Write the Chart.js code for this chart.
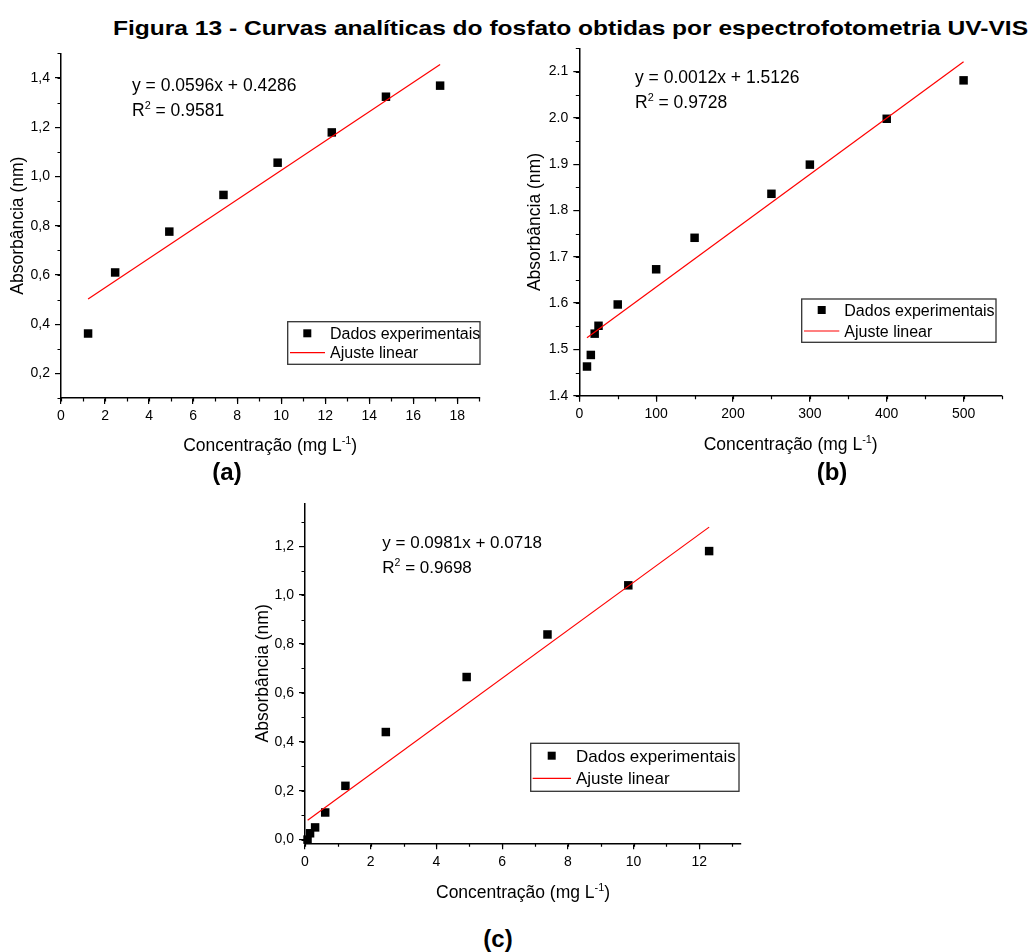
<!DOCTYPE html>
<html>
<head>
<meta charset="utf-8">
<script src="https://cdn.jsdelivr.net/npm/chart.js"></script>
<style>
  body { margin: 0; background: #fff; width: 1031px; height: 952px; position: relative; overflow: hidden; }
  .box { position: absolute; }
  .lbl { position: absolute; width: 80px; text-align: center; font: bold 24px 'Liberation Sans', Arial, sans-serif; line-height: 24px; color: #000; }
  #title { position: absolute; left: 113px; top: 17px; white-space: nowrap; transform-origin: left top;
           font: bold 21px 'Liberation Sans', Arial, sans-serif; line-height: 21px; color: #000; }
</style>
</head>
<body>
<div id="title">Figura 13 - Curvas analíticas do fosfato obtidas por espectrofotometria UV-VIS</div>

<div class="box" style="left:0px;top:40px;width:490px;height:430px"><canvas id="chartA"></canvas></div>
<div class="box" style="left:510px;top:35px;width:521px;height:435px"><canvas id="chartB"></canvas></div>
<div class="box" style="left:240px;top:490px;width:540px;height:422px"><canvas id="chartC"></canvas></div>

<div class="lbl" style="left:187px;top:460px">(a)</div>
<div class="lbl" style="left:792px;top:460px">(b)</div>
<div class="lbl" style="left:458px;top:927px">(c)</div>

<script>
// (a)
const concA = [1.23, 2.46, 4.92, 7.38, 9.84, 12.3, 14.76, 17.22];
const absA  = [0.362, 0.61, 0.776, 0.925, 1.056, 1.179, 1.324, 1.369];
const fitXA = [1.23, 17.22];
const fitYA = [0.502, 1.455];
const xTicksA = [0, 2, 4, 6, 8, 10, 12, 14, 16, 18];
const yTicksA = [0.2, 0.4, 0.6, 0.8, 1.0, 1.2, 1.4];

// (b)
const concB = [10, 15, 20, 25, 50, 100, 150, 250, 300, 400, 500];
const absB  = [1.463, 1.488, 1.534, 1.551, 1.597, 1.673, 1.741, 1.836, 1.899, 1.998, 2.081];
const fitXB = [10, 500];
const fitYB = [1.525, 2.121];
const xTicksB = [0, 100, 200, 300, 400, 500];
const yTicksB = [1.4, 1.5, 1.6, 1.7, 1.8, 1.9, 2.0, 2.1];

// (c)
const concC = [0.077, 0.154, 0.3075, 0.615, 1.23, 2.46, 4.92, 7.38, 9.84, 12.3];
const absC  = [0.0, 0.026, 0.05, 0.111, 0.22, 0.44, 0.665, 0.839, 1.04, 1.18];
const fitXC = [0.08, 12.3];
const fitYC = [0.079, 1.278];
const xTicksC = [0, 2, 4, 6, 8, 10, 12];
const yTicksC = [0.0, 0.2, 0.4, 0.6, 0.8, 1.0, 1.2];

const FONT = "'Liberation Sans', Arial, sans-serif";
Chart.defaults.font.family = FONT;
Chart.defaults.color = '#000';

const comma = v => v.toFixed(1).replace('.', ',');
const dot = v => v.toFixed(1);
const whole = v => String(v);

// draws a run of [text, superscript?] pieces starting at x
function runText(ctx, parts, x, y, size) {
  let cx = x;
  parts.forEach(([t, sup]) => {
    ctx.font = (sup ? size * 0.62 : size) + 'px ' + FONT;
    ctx.fillText(t, cx, sup ? y - size * 0.4 : y);
    cx += ctx.measureText(t).width;
  });
  return cx - x;
}
function runWidth(ctx, parts, size) {
  let w = 0;
  parts.forEach(([t, sup]) => {
    ctx.font = (sup ? size * 0.62 : size) + 'px ' + FONT;
    w += ctx.measureText(t).width;
  });
  return w;
}

const decor = {
  id: 'decor',
  afterDraw(chart, args, o) {
    const ctx = chart.ctx, area = chart.chartArea;
    const xs = chart.scales.x, ys = chart.scales.y;
    ctx.save();

    // minor ticks
    ctx.strokeStyle = '#000';
    ctx.lineWidth = 1.2;
    ctx.beginPath();
    for (let k = Math.ceil(xs.min / o.minorX - 1e-9); k * o.minorX <= xs.max + 1e-9; k++) {
      const px = Math.round(xs.getPixelForValue(k * o.minorX)) + 0.5;
      ctx.moveTo(px, area.bottom); ctx.lineTo(px, area.bottom + 3.5);
    }
    for (let k = Math.ceil(ys.min / o.minorY - 1e-9); k * o.minorY <= ys.max + 1e-9; k++) {
      const py = Math.round(ys.getPixelForValue(k * o.minorY)) + 0.5;
      ctx.moveTo(area.left, py); ctx.lineTo(area.left - 3.5, py);
    }
    ctx.stroke();

    ctx.fillStyle = '#000';
    ctx.textBaseline = 'alphabetic';
    ctx.textAlign = 'left';

    // x axis title with superscript
    const xt = [['Concentração (mg L', false], ['-1', true], [')', false]];
    const w = runWidth(ctx, xt, o.titleSize);
    runText(ctx, xt, (area.left + area.right) / 2 - w / 2, o.xTitleBase, o.titleSize);

    // fit equation
    const e = o.eq;
    runText(ctx, [[e.line, false]], e.x, e.y1 + e.size * 0.36, e.size);
    runText(ctx, [['R', false], ['2', true], [e.r2, false]], e.x, e.y2 + e.size * 0.36, e.size);

    // legend
    const L = o.legend;
    ctx.strokeStyle = '#333';
    ctx.lineWidth = 1.3;
    ctx.strokeRect(L.x, L.y, L.w, L.h);
    ctx.fillStyle = '#000';
    ctx.fillRect(L.mx - 4, L.r1 - 4, 8, 8);
    ctx.strokeStyle = '#ff0000';
    ctx.lineWidth = 1.2;
    ctx.beginPath();
    ctx.moveTo(L.l0, L.r2); ctx.lineTo(L.l1, L.r2);
    ctx.stroke();
    runText(ctx, [['Dados experimentais', false]], L.tx, L.r1 + L.size * 0.36, L.size);
    runText(ctx, [['Ajuste linear', false]], L.tx, L.r2 + L.size * 0.36, L.size);

    ctx.restore();
  }
};

function makeChart(p) {
  return new Chart(document.getElementById(p.id), {
    type: 'scatter',
    data: {
      datasets: [
        {
          label: 'Dados experimentais',
          data: p.conc.map((x, i) => ({ x: x, y: p.abs[i] })),
          pointStyle: 'rect',
          pointRadius: 6,
          pointHoverRadius: 6,
          backgroundColor: '#000',
          borderWidth: 0,
          clip: false,
          order: 1
        },
        {
          label: 'Ajuste linear',
          data: p.fitX.map((x, i) => ({ x: x, y: p.fitY[i] })),
          showLine: true,
          borderColor: '#ff0000',
          borderWidth: 1.2,
          pointRadius: 0,
          fill: false,
          order: 0
        }
      ]
    },
    options: {
      responsive: true,
      maintainAspectRatio: false,
      animation: false,
      events: [],
      layout: { padding: { top: p.pad.top, right: p.pad.right, left: 0, bottom: 0 } },
      scales: {
        x: {
          type: 'linear',
          min: p.xMin,
          max: p.xMax,
          afterBuildTicks: s => { s.ticks = p.xTicks.map(v => ({ value: v })); },
          afterFit: s => { s.height = p.hx; },
          grid: { drawOnChartArea: false, drawTicks: true, tickLength: 6, color: '#000', lineWidth: 1.2 },
          border: { display: true, color: '#000', width: 1.5 },
          ticks: { font: { size: 14 }, color: '#000', padding: 4, maxRotation: 0, autoSkip: false, callback: whole }
        },
        y: {
          type: 'linear',
          min: p.yMin,
          max: p.yMax,
          afterBuildTicks: s => { s.ticks = p.yTicks.map(v => ({ value: v })); },
          afterFit: s => { s.width = p.wy; },
          grid: { drawOnChartArea: false, drawTicks: true, tickLength: 6, color: '#000', lineWidth: 1.2 },
          border: { display: true, color: '#000', width: 1.5 },
          ticks: { font: { size: 14 }, color: '#000', padding: 5, autoSkip: false, callback: p.yFmt },
          title: { display: true, text: 'Absorbância (nm)', color: '#000', font: { size: 17.5 }, padding: { top: p.yTitlePad, bottom: 0 } }
        }
      },
      plugins: {
        legend: { display: false },
        tooltip: { enabled: false },
        decor: p.decor
      }
    },
    plugins: [decor]
  });
}

makeChart({
  id: 'chartA', conc: concA, abs: absA, fitX: fitXA, fitY: fitYA,
  xMin: 0, xMax: 19, yMin: 0.1, yMax: 1.5, xTicks: xTicksA, yTicks: yTicksA, yFmt: comma,
  pad: { top: 9, right: 10.7 }, wy: 61, hx: 72, yTitlePad: 7.8,
  decor: {
    minorX: 1, minorY: 0.1, titleSize: 17.5, xTitleBase: 411.4,
    eq: { line: 'y = 0.0596x + 0.4286', r2: ' = 0.9581', x: 132, y1: 45, y2: 70, size: 17.5 },
    legend: { x: 287.7, y: 281.7, w: 192.3, h: 42.6, mx: 307.3, l0: 290, l1: 325, tx: 330, r1: 293.3, r2: 312.7, size: 16 }
  }
});

makeChart({
  id: 'chartB', conc: concB, abs: absB, fitX: fitXB, fitY: fitYB,
  xMin: 0, xMax: 550, yMin: 1.4, yMax: 2.15, xTicks: xTicksB, yTicks: yTicksB, yFmt: dot,
  pad: { top: 10, right: 29 }, wy: 69.3, hx: 74.3, yTitlePad: 14.8,
  decor: {
    minorX: 50, minorY: 0.05, titleSize: 17.5, xTitleBase: 414.7,
    eq: { line: 'y = 0.0012x + 1.5126', r2: ' = 0.9728', x: 125, y1: 41.7, y2: 66.7, size: 17.5 },
    legend: { x: 291.7, y: 264, w: 194.3, h: 43.3, mx: 311.7, l0: 294, l1: 329.3, tx: 334.3, r1: 275, r2: 296, size: 16 }
  }
});

makeChart({
  id: 'chartC', conc: concC, abs: absC, fitX: fitXC, fitY: fitYC,
  xMin: 0, xMax: 13.27, yMin: -0.015, yMax: 1.375, xTicks: xTicksC, yTicks: yTicksC, yFmt: comma,
  pad: { top: 10, right: 39 }, wy: 65, hx: 68.7, yTitlePad: 13.1,
  decor: {
    minorX: 1, minorY: 0.1, titleSize: 17.5, xTitleBase: 408,
    eq: { line: 'y = 0.0981x + 0.0718', r2: ' = 0.9698', x: 142.3, y1: 51.7, y2: 76.7, size: 17 },
    legend: { x: 290.7, y: 253.3, w: 208.3, h: 48, mx: 311.7, l0: 292.7, l1: 331, tx: 336, r1: 265.7, r2: 288.3, size: 17 }
  }
});

// stretch the title to the width it takes in the figure
const title = document.getElementById('title');
const tw = title.getBoundingClientRect().width;
title.style.transform = 'scaleX(' + (915 / tw) + ')';
</script>
</body>
</html>
